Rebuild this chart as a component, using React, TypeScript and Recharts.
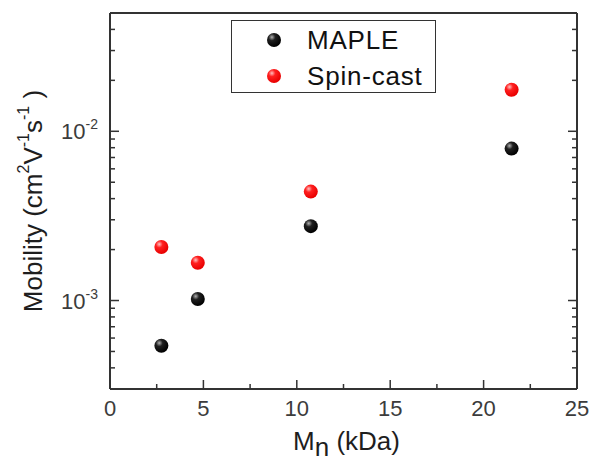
import React from 'react';
import { ScatterChart, Scatter, XAxis, YAxis } from 'recharts';

// values
const mnKDa = [2.75, 4.7, 10.75, 21.5];
const mapleMobility = [5.4e-4, 1.02e-3, 2.75e-3, 7.9e-3];
const spinCastMobility = [2.07e-3, 1.67e-3, 4.4e-3, 1.76e-2];

const xTicks = [0, 2.5, 5, 7.5, 10, 12.5, 15, 17.5, 20, 22.5, 25];
const xLabels = [0, 5, 10, 15, 20, 25];
const yMajor = [1e-3, 1e-2];
const yTicks = [
  4e-4, 5e-4, 6e-4, 7e-4, 8e-4, 9e-4, 1e-3,
  2e-3, 3e-3, 4e-3, 5e-3, 6e-3, 7e-3, 8e-3, 9e-3, 1e-2,
  2e-2, 3e-2, 4e-2,
];

const series = [
  { name: 'MAPLE', color: 'black', values: mapleMobility },
  { name: 'Spin-cast', color: 'red', values: spinCastMobility },
];

const FRAME = '#333';
const FONT = 'Arial, "Liberation Sans", sans-serif';

const isMajorX = (v: number) => xLabels.includes(v);
const isMajorY = (v: number) => yMajor.some((m) => Math.abs(m - v) / m < 1e-6);

const BottomTick = ({ x, y, payload }: any) => {
  const major = isMajorX(payload.value);
  return (
    <g>
      <line x1={x} x2={x} y1={y} y2={y - (major ? 9 : 5)} stroke={FRAME} strokeWidth={1.5} />
      {major && (
        <text x={x} y={y + 27} textAnchor="middle" fontSize={22} fill="#3c3c3c" fontFamily={FONT}>
          {payload.value}
        </text>
      )}
    </g>
  );
};

const TopTick = ({ x, y, payload }: any) => {
  const major = isMajorX(payload.value);
  return <line x1={x} x2={x} y1={y} y2={y + (major ? 9 : 5)} stroke={FRAME} strokeWidth={1.5} />;
};

const LeftTick = ({ x, y, payload }: any) => {
  const major = isMajorY(payload.value);
  const exp = Math.round(Math.log10(payload.value));
  return (
    <g>
      <line x1={x} x2={x + (major ? 9 : 5)} y1={y} y2={y} stroke={FRAME} strokeWidth={1.5} />
      {major && (
        <text x={x - 12} y={y + 8} textAnchor="end" fontSize={22} fill="#3c3c3c" fontFamily={FONT}>
          10
          <tspan fontSize={14} dy={-10}>{exp}</tspan>
        </text>
      )}
    </g>
  );
};

const RightTick = ({ x, y, payload }: any) => {
  const major = isMajorY(payload.value);
  return <line x1={x} x2={x - (major ? 9 : 5)} y1={y} y2={y} stroke={FRAME} strokeWidth={1.5} />;
};

const Ball = ({ cx, cy, color, r = 7 }: any) => {
  const id = color === 'red' ? 'ballRed' : 'ballBlack';
  const stops =
    color === 'red'
      ? ['#ffc0c0', '#ff2020', '#e80000']
      : ['#b0b0b0', '#202020', '#000000'];
  return (
    <g>
      <defs>
        <radialGradient id={id} cx="35%" cy="30%" r="70%">
          <stop offset="0%" stopColor={stops[0]} />
          <stop offset="35%" stopColor={stops[1]} />
          <stop offset="100%" stopColor={stops[2]} />
        </radialGradient>
      </defs>
      <circle cx={cx} cy={cy} r={r} fill={`url(#${id})`} />
    </g>
  );
};

const LegendBox = () => (
  <div
    style={{
      position: 'absolute',
      left: 231,
      top: 20,
      width: 203,
      height: 71,
      border: `1.5px solid ${FRAME}`,
      background: '#fff',
      fontFamily: FONT,
    }}
  >
    {series.map((s, i) => (
      <div key={s.name} style={{ position: 'absolute', left: 0, top: 4 + i * 36, height: 30, display: 'flex', alignItems: 'center' }}>
        <svg width={60} height={30} style={{ marginLeft: 12 }}>
          <Ball cx={30} cy={15} color={s.color} />
        </svg>
        <span style={{ marginLeft: 3, fontSize: 26, color: '#111', letterSpacing: 0.8 }}>{s.name}</span>
      </div>
    ))}
  </div>
);

const YTitle = ({ viewBox }: any) => {
  const cx = 35;
  const cy = viewBox.y + viewBox.height / 2;
  return (
    <text
      x={cx}
      y={cy}
      transform={`rotate(-90 ${cx} ${cy})`}
      textAnchor="middle"
      dominantBaseline="middle"
      fontSize={26}
      fill="#1e1e1e"
      fontFamily={FONT}
    >
      Mobility (cm
      <tspan fontSize={16} dy={-10}>2</tspan>
      <tspan dy={10}>V</tspan>
      <tspan fontSize={16} dy={-10}>-1</tspan>
      <tspan dy={10}>s</tspan>
      <tspan fontSize={16} dy={-10}>-1</tspan>
      <tspan dy={10}> )</tspan>
    </text>
  );
};

const XTitle = ({ viewBox }: any) => {
  const cx = viewBox.x + viewBox.width / 2 + 3;
  return (
    <text x={cx} y={450} textAnchor="middle" fontSize={26} fill="#1e1e1e" fontFamily={FONT}>
      M
      <tspan dy={6}>n</tspan>
      <tspan dy={-6}> (kDa)</tspan>
    </text>
  );
};

export default function App() {
  return (
    <div style={{ position: 'absolute', left: 0, top: 0, width: 589, height: 464, background: '#fff' }}>
      <ScatterChart width={589} height={464} margin={{ top: 12, right: 11, bottom: 35, left: 50 }}>
        <XAxis
          xAxisId="b"
          dataKey="x"
          type="number"
          domain={[0, 25]}
          ticks={xTicks}
          interval={0}
          height={40}
          tickSize={0}
          tickMargin={0}
          tickLine={false}
          tick={<BottomTick />}
          axisLine={{ stroke: FRAME, strokeWidth: 2 }}
          allowDataOverflow
          label={<XTitle />}
        />
        <XAxis
          xAxisId="t"
          orientation="top"
          type="number"
          domain={[0, 25]}
          ticks={xTicks}
          interval={0}
          height={1}
          tickSize={0}
          tickMargin={0}
          tickLine={false}
          tick={<TopTick />}
          axisLine={{ stroke: FRAME, strokeWidth: 2 }}
          allowDataOverflow
        />
        <YAxis
          yAxisId="l"
          dataKey="y"
          type="number"
          scale="log"
          domain={[3e-4, 5e-2]}
          ticks={yTicks}
          interval={0}
          width={60}
          tickSize={0}
          tickMargin={0}
          tickLine={false}
          tick={<LeftTick />}
          axisLine={{ stroke: FRAME, strokeWidth: 2 }}
          allowDataOverflow
          label={<YTitle />}
        />
        <YAxis
          yAxisId="r"
          orientation="right"
          type="number"
          scale="log"
          domain={[3e-4, 5e-2]}
          ticks={yTicks}
          interval={0}
          width={1}
          tickSize={0}
          tickMargin={0}
          tickLine={false}
          tick={<RightTick />}
          axisLine={{ stroke: FRAME, strokeWidth: 2 }}
          allowDataOverflow
        />
        {series.map((s) => (
          <Scatter
            key={s.name}
            name={s.name}
            data={mnKDa.map((x, i) => ({ x, y: s.values[i] }))}
            xAxisId="b"
            yAxisId="l"
            fill={s.color}
            isAnimationActive={false}
            shape={(p: any) => <Ball cx={p.cx} cy={p.cy} color={s.color} />}
          />
        ))}
      </ScatterChart>
      <LegendBox />
    </div>
  );
}
